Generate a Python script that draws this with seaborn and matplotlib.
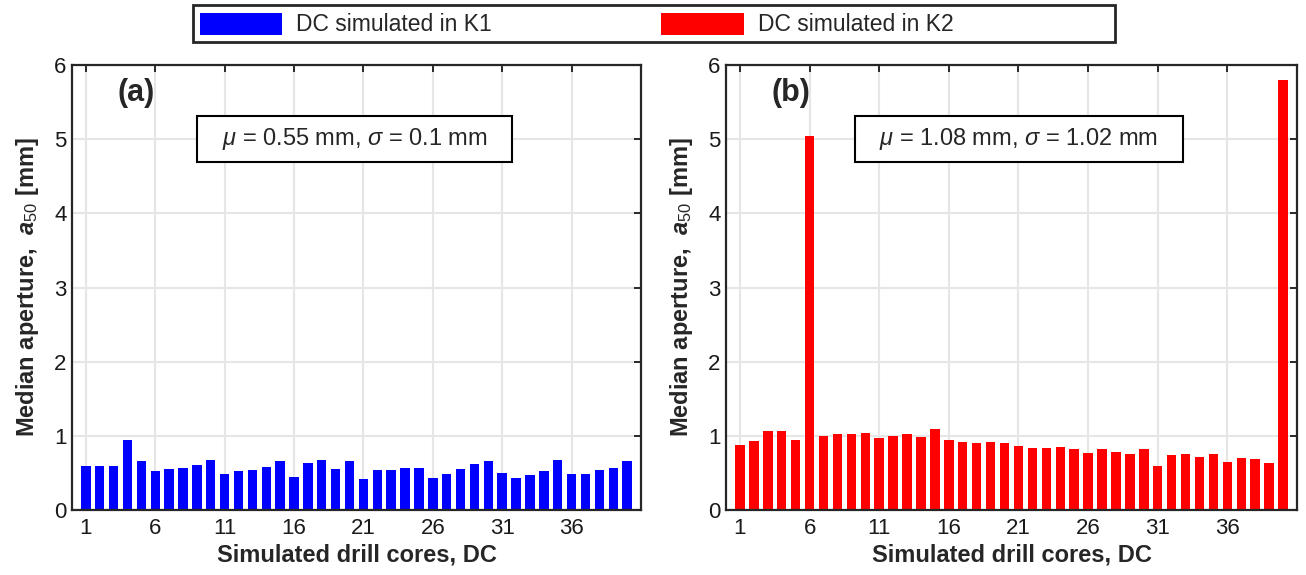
import numpy as np
import pandas as pd
import matplotlib
matplotlib.use("Agg")
import matplotlib.pyplot as plt
from matplotlib.patches import Patch, Rectangle
import seaborn as sns

# 数据：模拟钻孔的中值开度 (mm)
dc_ids = list(range(1, 41))
a50_k1 = [0.60, 0.60, 0.60, 0.94, 0.66, 0.53, 0.55, 0.57, 0.61, 0.68,
          0.48, 0.52, 0.54, 0.58, 0.66, 0.45, 0.63, 0.68, 0.55, 0.66,
          0.42, 0.54, 0.54, 0.57, 0.56, 0.43, 0.48, 0.55, 0.62, 0.66,
          0.50, 0.43, 0.47, 0.53, 0.68, 0.49, 0.49, 0.54, 0.56, 0.66]
a50_k2 = [0.87, 0.93, 1.06, 1.06, 0.95, 5.04, 1.00, 1.03, 1.03, 1.04,
          0.97, 1.00, 1.03, 0.98, 1.09, 0.95, 0.92, 0.91, 0.92, 0.91,
          0.86, 0.83, 0.84, 0.85, 0.82, 0.77, 0.82, 0.78, 0.75, 0.82,
          0.59, 0.74, 0.75, 0.72, 0.76, 0.65, 0.70, 0.69, 0.64, 5.80]
stats_text = [r'$\mu$ = 0.55 mm, $\sigma$ = 0.1 mm',
              r'$\mu$ = 1.08 mm, $\sigma$ = 1.02 mm']
panel_labels = ['(a)', '(b)']
legend_labels = ['DC simulated in K1', 'DC simulated in K2']
bar_colors = ['#0000ff', '#ff0000']
tick_labels = [1, 6, 11, 16, 21, 26, 31, 36]

sns.set_style('white')
plt.rcParams['font.family'] = ['Liberation Sans', 'DejaVu Sans']
plt.rcParams['mathtext.fontset'] = 'custom'
plt.rcParams['mathtext.rm'] = 'Liberation Sans'
plt.rcParams['mathtext.it'] = 'Liberation Sans:italic'
plt.rcParams['mathtext.bf'] = 'Liberation Sans:bold'
plt.rcParams['mathtext.bfit'] = 'Liberation Sans:style=italic:weight=bold'

fig = plt.figure(figsize=(13.06, 5.75), dpi=100)
ax_a = fig.add_axes([0.0551, 0.113, 0.4357, 0.774])
ax_b = fig.add_axes([0.5559, 0.113, 0.4372, 0.774])

# 文本框位置（轴坐标）
box_x0 = [0.2197, 0.226]
box_x1 = [0.7733, 0.800]

for i, (ax, vals) in enumerate(zip([ax_a, ax_b], [a50_k1, a50_k2])):
    df = pd.DataFrame({'DC': dc_ids, 'a50': vals})
    sns.barplot(data=df, x='DC', y='a50', color=bar_colors[i], saturation=1,
                width=0.68, ax=ax, linewidth=0)
    ax.set_xlim(-1, 40)
    ax.set_ylim(0, 6)
    ax.set_xticks([t - 1 for t in tick_labels])
    ax.set_xticklabels([str(t) for t in tick_labels])
    ax.set_yticks(range(0, 7))
    ax.set_axisbelow(True)
    ax.grid(True, color='#e6e6e6', linewidth=1.5)
    ax.tick_params(direction='in', length=5, width=1.3, top=True, right=True,
                   labelsize=16, colors='#1a1a1a', pad=4)
    ax.tick_params(axis='x', pad=6)
    for s in ax.spines.values():
        s.set_visible(True)
        s.set_linewidth(1.6)
        s.set_color('#262626')
    ax.set_xlabel('Simulated drill cores, DC', fontsize=17, fontweight='bold',
                  labelpad=3)
    ax.set_ylabel(r'Median aperture,  $\mathbfit{a}_{50}$ [mm]', fontsize=17,
                  fontweight='bold', labelpad=9)
    ax.text(0.113, 0.937, panel_labels[i], transform=ax.transAxes,
            fontsize=22, fontweight='bold', ha='center', va='center')
    ax.add_patch(Rectangle((box_x0[i], 0.782), box_x1[i] - box_x0[i], 0.103,
                           transform=ax.transAxes, fc='white', ec='black',
                           lw=1.5, zorder=5))
    ax.text((box_x0[i] + box_x1[i]) / 2, 0.833, stats_text[i],
            transform=ax.transAxes, fontsize=17, ha='center', va='center',
            zorder=6)

# 图例（手动外框）
fig.add_artist(Rectangle((193 / 1306, 1 - 42 / 575), 922 / 1306, 37 / 575,
                         transform=fig.transFigure, fc='white', ec='#262626',
                         lw=2))
handles = [Patch(facecolor=c, edgecolor='none') for c in bar_colors]
fig.legend(handles, legend_labels, loc='center left', ncol=2,
           bbox_to_anchor=(193 / 1306, 1 - 24.5 / 575), borderaxespad=0,
           fontsize=16.5, frameon=False, handlelength=3.6, handleheight=1.1,
           handletextpad=0.6, columnspacing=7.4, borderpad=0.3)

plt.savefig('out.png', dpi=100, facecolor='white')
